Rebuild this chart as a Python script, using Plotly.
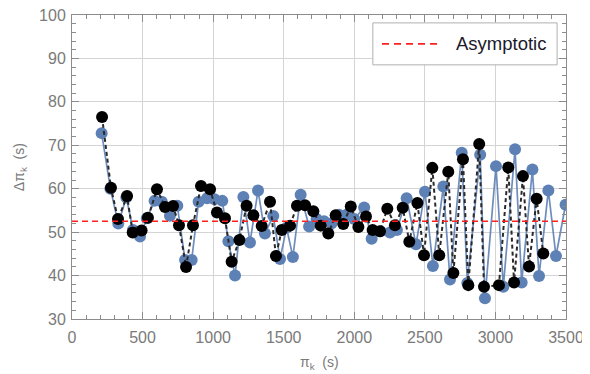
import plotly.graph_objects as go

# Blue model: periods (s) and period spacings (s)
blue_period = [210, 272, 328, 385, 432, 482, 530, 585, 636, 694, 746, 801, 848, 897, 957,
               1010, 1065, 1108, 1155, 1214, 1261, 1318, 1367, 1426, 1474, 1520, 1565, 1620,
               1680, 1733, 1786, 1838, 1892, 1946, 2000, 2070, 2123, 2185, 2253, 2302, 2371,
               2437, 2501, 2557, 2631, 2678, 2761, 2801, 2892, 2926, 3004, 3056, 3139, 3186,
               3262, 3309, 3375, 3429, 3497]
blue_spacing = [72.8, 60.0, 52.0, 58.0, 50.5, 49.0, 53.2, 57.2, 57.0, 53.8, 56.1, 43.6, 43.6,
                57.0, 57.8, 57.6, 57.2, 47.9, 40.0, 58.1, 47.6, 59.6, 49.7, 53.7, 43.8, 51.0,
                44.3, 58.6, 51.3, 53.0, 52.5, 52.0, 54.0, 54.0, 53.0, 55.7, 48.5, 50.2, 49.9,
                50.5, 57.8, 47.2, 59.3, 42.2, 60.5, 39.1, 68.3, 38.3, 67.8, 34.8, 65.2, 37.4,
                69.1, 38.4, 64.4, 39.9, 59.6, 44.5, 56.3]

# Black model
black_period = [213, 276, 326, 390, 430, 493, 538, 602, 659, 716, 758, 808, 857, 914, 978,
                1027, 1084, 1131, 1186, 1237, 1285, 1344, 1403, 1445, 1486, 1545, 1594, 1651,
                1710, 1762, 1816, 1868, 1922, 1975, 2029, 2083, 2130, 2182, 2234, 2288, 2343,
                2390, 2447, 2494, 2553, 2602, 2666, 2702, 2770, 2808, 2885, 2919, 3025, 3091,
                3132, 3195, 3238, 3292, 3339]
black_spacing = [76.5, 60.2, 53.0, 58.3, 49.9, 50.4, 53.3, 59.9, 55.8, 56.0, 51.6, 42.0, 51.6,
                 60.6, 59.9, 54.5, 53.2, 43.2, 48.2, 56.1, 53.9, 51.4, 57.0, 44.5, 50.5, 51.5,
                 56.1, 56.2, 54.8, 51.5, 49.7, 53.9, 51.9, 55.9, 51.2, 53.6, 50.5, 50.2, 55.4,
                 51.6, 55.6, 47.8, 56.7, 44.7, 64.8, 44.7, 63.9, 40.6, 66.8, 37.8, 70.3, 37.4,
                 37.8, 64.9, 38.4, 62.9, 42.1, 57.7, 45.1]

asymptotic_value = 52.5
legend_label = "Asymptotic"
x_title = "π<sub>k</sub>  (s)"
y_title = "Δπ<sub>k</sub>  (s)"
x_range = [0, 3500]
y_range = [30, 100]

BLUE = "#5E81B5"
RED = "#ff2020"
LABEL = "#7a7a7a"
FRAME = "#8c8c8c"
FONT = "Liberation Sans, Arial, sans-serif"

fig = go.Figure()

fig.add_trace(go.Scatter(
    x=blue_period, y=blue_spacing, mode="lines+markers",
    line=dict(color="rgba(94,129,181,0.9)", width=1.7),
    marker=dict(color=BLUE, size=12, line=dict(width=0)),
    showlegend=False, hoverinfo="skip"))

fig.add_trace(go.Scatter(
    x=black_period, y=black_spacing, mode="lines+markers",
    line=dict(color="#2a2a2a", width=2, dash="4px,3px"),
    marker=dict(color="black", size=12, line=dict(width=0)),
    showlegend=False, hoverinfo="skip"))

fig.add_trace(go.Scatter(
    x=x_range, y=[asymptotic_value, asymptotic_value], mode="lines",
    line=dict(color=RED, width=1.6, dash="6px,4px"),
    name=legend_label, showlegend=False, hoverinfo="skip"))

axis_common = dict(
    showgrid=True, gridcolor="#d4d4d4", gridwidth=1,
    showline=True, linecolor=FRAME, linewidth=1, mirror="allticks",
    ticks="inside", ticklen=7, tickcolor=FRAME,
    tickfont=dict(family=FONT, size=16, color=LABEL),
    ticklabeloverflow="allow",
    zeroline=False, automargin=False,
)

fig.update_xaxes(range=x_range, dtick=500, tick0=0, ticklabelstandoff=4,
                 minor=dict(dtick=100, ticks="inside", ticklen=4, tickcolor=FRAME, showgrid=False),
                 **axis_common)
fig.update_yaxes(range=y_range, dtick=10, tick0=0, ticklabelstandoff=2,
                 minor=dict(dtick=2, ticks="inside", ticklen=4, tickcolor=FRAME, showgrid=False),
                 **axis_common)

# Legend box drawn in paper coordinates
fig.add_shape(type="rect", xref="paper", yref="paper", x0=0.609, x1=0.982, y0=0.836, y1=0.974,
              fillcolor="white", line=dict(color="#b0b0b0", width=1), layer="above")
fig.add_shape(type="line", xref="paper", yref="paper", x0=0.6275, x1=0.749, y0=0.905, y1=0.905,
              line=dict(color=RED, width=1.8, dash="7px,5px"), layer="above")
fig.add_annotation(xref="paper", yref="paper", x=0.774, y=0.905, xanchor="left", yanchor="middle",
                   text=legend_label, showarrow=False,
                   font=dict(family=FONT, size=18.5, color="#1a1a2a"))

# Axis titles
fig.add_annotation(xref="paper", yref="paper", x=0.5, y=-0.145, xanchor="center", yanchor="middle",
                   text=x_title, showarrow=False, font=dict(family=FONT, size=14, color=LABEL))
fig.add_annotation(xref="paper", yref="paper", x=-0.105, y=0.5, xanchor="center", yanchor="middle",
                   text=y_title, textangle=-90, showarrow=False,
                   font=dict(family=FONT, size=14, color=LABEL))

# the page adds an 8px body margin, so the figure is 8px smaller and margins shifted
fig.update_layout(
    width=582, height=366,
    margin=dict(l=64, r=24, t=7, b=55),
    paper_bgcolor="white", plot_bgcolor="white",
    showlegend=False,
)

fig.write_html("out.html")
